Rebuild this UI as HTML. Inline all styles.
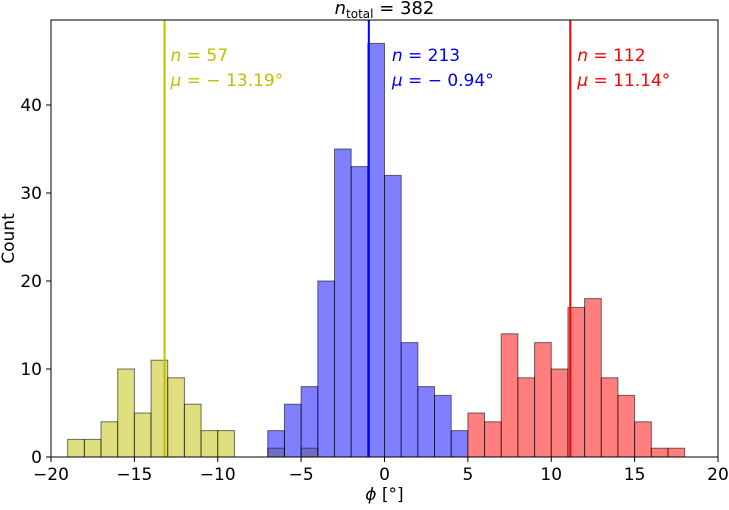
<!DOCTYPE html>
<html><head><meta charset="utf-8"><style>
body{margin:0;background:#fff;font-family:"Liberation Sans","DejaVu Sans",sans-serif}
svg text{font-family:"DejaVu Sans","Liberation Sans",sans-serif}
</style></head><body>
<svg id="c" width="729" height="505"></svg>
<script>
const yellowEdges=[-19,-18,-17,-16,-15,-14,-13,-12,-11,-10,-7,-5];
const yellowCounts=[2,2,4,10,5,11,9,6,3,3,1,1];
const blueStart=-7;
const blueCounts=[3,6,8,20,35,33,47,32,13,8,7,3];
const redStart=5;
const redCounts=[5,4,14,9,13,10,17,18,9,7,4,1,1];
const means=[-13.19,-0.94,11.14];
const ns=[57,213,112];
const xTicks=[-20,-15,-10,-5,0,5,10,15,20];
const yTicks=[0,10,20,30,40];
const L=51,R=718,T=20,B=457,XMIN=-20,XMAX=20,YMAX=49.66;
const X=v=>L+(v-XMIN)/(XMAX-XMIN)*(R-L);
const Y=v=>B-v/YMAX*(B-T);
const svg=document.getElementById('c');
const NS='http://www.w3.org/2000/svg';
function mk(t,a,txt){const e=document.createElementNS(NS,t);for(const k in a)e.setAttribute(k,a[k]);if(txt!==undefined)e.textContent=txt;svg.appendChild(e);return e;}
function bar(x0,c,fill,name){const e=mk('rect',{x:X(x0),y:Y(c),width:X(x0+1)-X(x0),height:B-Y(c),fill:fill,'fill-opacity':0.5,stroke:'#000','stroke-opacity':0.55,'stroke-width':1});

}
yellowCounts.forEach((c,i)=>bar(yellowEdges[i],c,'#bfbf00','bar-yellow'));
blueCounts.forEach((c,i)=>bar(blueStart+i,c,'#0000ff','bar-blue'));
redCounts.forEach((c,i)=>bar(redStart+i,c,'#ff0000','bar-red'));
const cols=['#bfbf00','#0000ff','#ff0000'];
const offs=[6,23,7];
means.forEach((m,i)=>{
 const l=mk('line',{x1:X(m),x2:X(m),y1:T,y2:B,stroke:cols[i],'stroke-width':2});
 
 
 const t1=mk('text',{x:X(m)+offs[i],y:61,fill:cols[i],'font-size':17},'');
 t1.innerHTML='<tspan font-style="italic">n</tspan> = '+ns[i];
 
 
 const t2=mk('text',{x:X(m)+offs[i],y:86,fill:cols[i],'font-size':17},'');
 t2.innerHTML='<tspan font-style="italic">μ</tspan> = '+(m<0?'− '+Math.abs(m).toFixed(2):m.toFixed(2))+'°';
 
 
});
const fr=mk('rect',{x:L,y:T,width:R-L,height:B-T,fill:'none',stroke:'#000','stroke-width':1});


xTicks.forEach(v=>{mk('line',{x1:X(v),x2:X(v),y1:B,y2:B+5,stroke:'#000'});
 const t=mk('text',{x:X(v),y:B+23,'text-anchor':'middle','font-size':17},v<0?'−'+Math.abs(v):v);
 
 });
yTicks.forEach(v=>{mk('line',{x1:L-5,x2:L,y1:Y(v),y2:Y(v),stroke:'#000'});
 const t=mk('text',{x:L-9,y:Y(v)+6,'text-anchor':'end','font-size':17},v);
 
 });
const xl=mk('text',{x:(L+R)/2,y:500,'text-anchor':'middle','font-size':17},'');
xl.innerHTML='<tspan font-style="italic">ϕ</tspan> [°]';


const yl=mk('text',{x:14,y:(T+B)/2,'text-anchor':'middle','font-size':17,transform:'rotate(-90 14 '+((T+B)/2)+')'},'Count');


const tt=mk('text',{x:(L+R)/2,y:14,'text-anchor':'middle','font-size':18},'');
tt.innerHTML='<tspan font-style="italic">n</tspan><tspan font-size="12" dy="4">total</tspan><tspan dy="-4"> = 382</tspan>';


</script>
</body></html>
